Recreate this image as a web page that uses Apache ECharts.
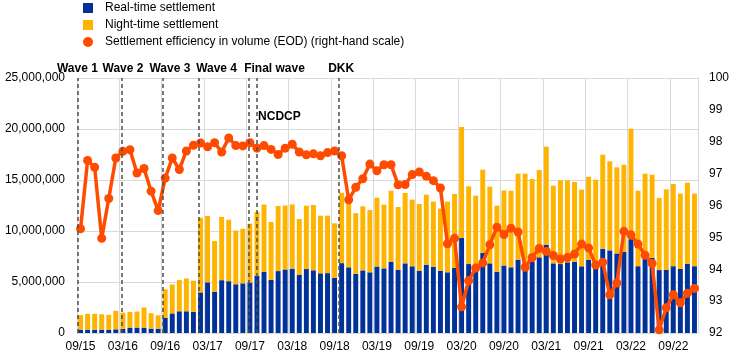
<!DOCTYPE html>
<html>
<head>
<meta charset="utf-8">
<script src="https://cdn.jsdelivr.net/npm/echarts@6/dist/echarts.min.js"></script>
<style>
html,body{margin:0;padding:0;background:#fff;}
#chart{width:744px;height:362px;}
</style>
</head>
<body>
<div id="chart"></div>
<script>
var categories = ['09/15','10/15','11/15','12/15','01/16','02/16','03/16','04/16','05/16','06/16','07/16','08/16',
'09/16','10/16','11/16','12/16','01/17','02/17','03/17','04/17','05/17','06/17','07/17','08/17',
'09/17','10/17','11/17','12/17','01/18','02/18','03/18','04/18','05/18','06/18','07/18','08/18',
'09/18','10/18','11/18','12/18','01/19','02/19','03/19','04/19','05/19','06/19','07/19','08/19',
'09/19','10/19','11/19','12/19','01/20','02/20','03/20','04/20','05/20','06/20','07/20','08/20',
'09/20','10/20','11/20','12/20','01/21','02/21','03/21','04/21','05/21','06/21','07/21','08/21',
'09/21','10/21','11/21','12/21','01/22','02/22','03/22','04/22','05/22','06/22','07/22','08/22',
'09/22','10/22','11/22','12/22'];

// Real-time settlement (blue)
var realTime = [330000,330000,330000,330000,300000,360000,390000,530000,530000,530000,430000,430000,
1480000,1920000,2130000,2130000,2070000,3980000,4970000,4050000,5180000,5080000,4780000,4870000,
4950000,5620000,5980000,5200000,6070000,6230000,6310000,5720000,6270000,6150000,5850000,5870000,
5400000,6850000,6440000,5800000,6140000,5950000,6520000,6340000,6960000,6210000,6830000,6540000,
6110000,6700000,6500000,6110000,5950000,6370000,9310000,6760000,6440000,7840000,6830000,6010000,
6620000,6440000,7190000,6850000,6960000,7420000,8660000,6830000,6760000,6930000,6990000,6540000,
7190000,7000000,8250000,8100000,7800000,7950000,9200000,6550000,7300000,7370000,6170000,6200000,
6550000,6280000,6770000,6550000];

// Night-time settlement (yellow, stacked on top)
var nightTime = [1410000,1550000,1550000,1510000,1480000,1810000,1610000,1540000,1570000,1970000,1510000,1310000,
2790000,2840000,3070000,3220000,3060000,7320000,6500000,4970000,6200000,6020000,5270000,5350000,
5770000,6250000,6620000,5680000,6380000,6270000,6290000,5450000,6210000,6400000,5650000,5630000,
5350000,6900000,6460000,5950000,6280000,6100000,6740000,6240000,6990000,6140000,6900000,6530000,
6540000,6860000,6380000,6080000,6930000,7260000,10890000,7620000,7020000,8170000,7520000,6470000,
7350000,7510000,8430000,8770000,8140000,8560000,9610000,7610000,8210000,8040000,7810000,7510000,
8130000,8030000,9230000,8730000,8440000,8550000,10830000,7400000,8320000,8150000,7070000,7880000,
8050000,7380000,7970000,7110000];

// Settlement efficiency in volume (EOD), right-hand scale
var efficiency = [95.27,97.41,97.20,94.97,96.22,97.49,97.70,97.75,97.02,97.16,96.45,95.84,
96.86,97.49,97.13,97.71,97.89,97.96,97.84,97.97,97.68,98.12,97.88,97.87,
97.97,97.80,97.88,97.76,97.60,97.80,97.92,97.68,97.59,97.62,97.56,97.66,
97.71,97.56,96.18,96.57,96.84,97.30,97.09,97.28,97.28,96.65,96.66,96.97,
97.05,96.92,96.78,96.55,94.80,94.97,92.82,93.64,94.04,94.20,94.77,95.32,
95.09,95.29,95.17,94.06,94.37,94.65,94.56,94.43,94.32,94.37,94.48,94.79,
94.67,94.13,94.22,93.20,93.57,95.19,95.08,94.79,94.44,94.18,92.10,92.79,
93.20,92.95,93.25,93.40];

var leftTicks = {min: 0, max: 25000000, interval: 5000000};
var rightTicks = {min: 92, max: 100, interval: 1};

// Event markers: label and position in months from 09/15 (centre of 09/15 = 0.5)
var eventNames = ['Wave 1','Wave 2','Wave 3','Wave 4','Final wave','NCDCP','DKK'];
var eventPos = [0.05, 6.3, 12.1, 17.3, 24.3, 25.45, 37.15];
var eventShift = [0, 1.5, 7.5, 17.5, 26, 22.8, 2];
var eventDist = [3, 3, 3, 3, 3, -44.7, 3];

var names = ['Real-time settlement','Night-time settlement','Settlement efficiency in volume (EOD) (right-hand scale)'];
var FONT = '"Liberation Sans", Arial, sans-serif';

var chart = echarts.init(document.getElementById('chart'), null, {renderer: 'canvas'});

var markData = eventNames.map(function (n, i) {
  return {
    xAxis: eventPos[i],
    label: {
      formatter: n,
      distance: eventDist[i],
      padding: [0, 0, 0, eventShift[i] * 2]
    }
  };
});

chart.setOption({
  animation: false,
  textStyle: {fontFamily: FONT},
  legend: {
    orient: 'vertical',
    left: 83,
    top: 2,
    padding: 0,
    itemWidth: 10,
    itemHeight: 10,
    itemGap: 5,
    selectedMode: false,
    textStyle: {fontSize: 12, color: '#000', fontFamily: FONT, padding: [0, 0, 0, 7]},
    data: [
      {name: names[0], icon: 'rect'},
      {name: names[1], icon: 'rect'},
      {name: names[2], icon: 'circle'}
    ]
  },
  grid: {left: 77, right: 46, top: 78, bottom: 29, containLabel: false},
  xAxis: [
    {
      type: 'category',
      data: categories,
      boundaryGap: true,
      axisLine: {show: true, lineStyle: {color: '#d9d9d9', width: 1}},
      axisTick: {show: false, interval: 5},
      axisLabel: {interval: 5, color: '#000', fontSize: 12, margin: 8, fontFamily: FONT},
      splitLine: {show: true, interval: 5, lineStyle: {color: '#d9d9d9', width: 1}}
    },
    {
      type: 'value',
      min: 0,
      max: 88,
      show: false
    }
  ],
  yAxis: [
    {
      type: 'value',
      min: leftTicks.min,
      max: leftTicks.max,
      interval: leftTicks.interval,
      axisLine: {show: false},
      axisTick: {show: false},
      axisLabel: {
        color: '#000', fontSize: 12, margin: 12, fontFamily: FONT,
        formatter: function (v) { return v.toLocaleString('en-US'); }
      },
      splitLine: {show: true, lineStyle: {color: '#d9d9d9', width: 1}}
    },
    {
      type: 'value',
      min: rightTicks.min,
      max: rightTicks.max,
      interval: rightTicks.interval,
      axisLine: {show: true, lineStyle: {color: '#d9d9d9', width: 1}},
      axisTick: {show: false},
      axisLabel: {color: '#000', fontSize: 12, margin: 11, fontFamily: FONT},
      splitLine: {show: false}
    }
  ],
  series: [
    {
      name: names[0],
      type: 'bar',
      stack: 'vol',
      data: realTime,
      barCategoryGap: '30%',
      itemStyle: {color: '#003299'},
      z: 2
    },
    {
      name: names[1],
      type: 'bar',
      stack: 'vol',
      data: nightTime,
      barCategoryGap: '30%',
      itemStyle: {color: '#FFB400'},
      z: 2
    },
    {
      name: 'events',
      type: 'line',
      xAxisIndex: 1,
      yAxisIndex: 0,
      data: [],
      silent: true,
      z: 3,
      markLine: {
        silent: true,
        symbol: ['none', 'none'],
        animation: false,
        lineStyle: {type: [4, 3], color: '#4d4d4d', width: 1.5},
        label: {
          show: true,
          position: 'end',
          color: '#000',
          fontSize: 12,
          fontWeight: 'bold',
          fontFamily: FONT
        },
        data: markData
      }
    },
    {
      name: names[2],
      type: 'line',
      yAxisIndex: 1,
      data: efficiency,
      symbol: 'circle',
      symbolSize: 9,
      showSymbol: true,
      showAllSymbol: true,
      lineStyle: {color: '#FF4B00', width: 3.5},
      itemStyle: {color: '#FF4B00'},
      z: 4
    }
  ]
});
</script>
</body>
</html>
